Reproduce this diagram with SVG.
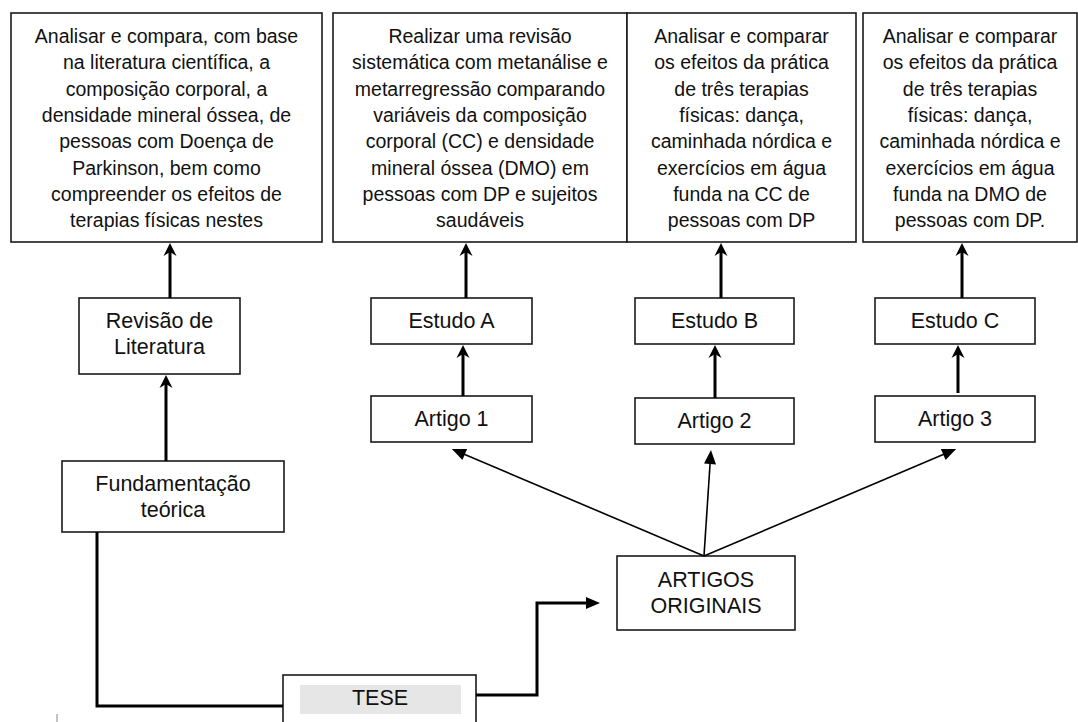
<svg xmlns="http://www.w3.org/2000/svg" width="1078" height="722" viewBox="0 0 1078 722">
<style>
  .box { fill: #ffffff; stroke: #1a1a1a; stroke-width: 1.6; }
  .t { font-family: "Liberation Sans", Arial, sans-serif; font-size: 19.5px; fill: #111; text-anchor: middle; }
  .l { font-family: "Liberation Sans", Arial, sans-serif; font-size: 21.5px; fill: #111; text-anchor: middle; }
  .thick { fill: none; stroke: #000; stroke-width: 3; }
  .thin { fill: none; stroke: #000; stroke-width: 1.6; }
</style>
<defs>
  <marker id="barb" markerUnits="userSpaceOnUse" viewBox="-8 -7 16 14" refX="0" refY="0" markerWidth="16" markerHeight="14" orient="auto">
    <path d="M7,0 L-6,-6.5 L-2,0 L-6,6.5 Z" fill="#000"/>
  </marker>
  <marker id="tri" markerUnits="userSpaceOnUse" viewBox="-8 -7 16 14" refX="0" refY="0" markerWidth="16" markerHeight="14" orient="auto">
    <path d="M7,0 L-7,-6 L-7,6 Z" fill="#000"/>
  </marker>
</defs>

<g id="obj1">
  <rect class="box" x="11" y="13" width="311" height="229"/>
  <text class="t" x="166.5" y="43">Analisar e compara, com base</text>
  <text class="t" x="166.5" y="69.3">na literatura científica, a</text>
  <text class="t" x="166.5" y="95.6">composição corporal, a</text>
  <text class="t" x="166.5" y="121.9">densidade mineral óssea, de</text>
  <text class="t" x="166.5" y="148.2">pessoas com Doença de</text>
  <text class="t" x="166.5" y="174.5">Parkinson, bem como</text>
  <text class="t" x="166.5" y="200.8">compreender os efeitos de</text>
  <text class="t" x="166.5" y="227.1">terapias físicas nestes</text>
</g>
<g id="obj2">
  <rect class="box" x="333" y="13" width="294" height="229"/>
  <text class="t" x="480" y="43">Realizar uma revisão</text>
  <text class="t" x="480" y="69.3">sistemática com metanálise e</text>
  <text class="t" x="480" y="95.6">metarregressão comparando</text>
  <text class="t" x="480" y="121.9">variáveis da composição</text>
  <text class="t" x="480" y="148.2">corporal (CC) e densidade</text>
  <text class="t" x="480" y="174.5">mineral óssea (DMO) em</text>
  <text class="t" x="480" y="200.8">pessoas com DP e sujeitos</text>
  <text class="t" x="480" y="227.1">saudáveis</text>
</g>
<g id="obj3">
  <rect class="box" x="627" y="13" width="229" height="229"/>
  <text class="t" x="741.5" y="43">Analisar e comparar</text>
  <text class="t" x="741.5" y="69.3">os efeitos da prática</text>
  <text class="t" x="741.5" y="95.6">de três terapias</text>
  <text class="t" x="741.5" y="121.9">físicas: dança,</text>
  <text class="t" x="741.5" y="148.2">caminhada nórdica e</text>
  <text class="t" x="741.5" y="174.5">exercícios em água</text>
  <text class="t" x="741.5" y="200.8">funda na CC de</text>
  <text class="t" x="741.5" y="227.1">pessoas com DP</text>
</g>
<g id="obj4">
  <rect class="box" x="863" y="13" width="214" height="229"/>
  <text class="t" x="970" y="43">Analisar e comparar</text>
  <text class="t" x="970" y="69.3">os efeitos da prática</text>
  <text class="t" x="970" y="95.6">de três terapias</text>
  <text class="t" x="970" y="121.9">físicas: dança,</text>
  <text class="t" x="970" y="148.2">caminhada nórdica e</text>
  <text class="t" x="970" y="174.5">exercícios em água</text>
  <text class="t" x="970" y="200.8">funda na DMO de</text>
  <text class="t" x="970" y="227.1">pessoas com DP.</text>
</g>

<g id="revisao">
  <rect class="box" x="79" y="298" width="161" height="76"/>
  <text class="l" x="159.5" y="328">Revisão de</text>
  <text class="l" x="159.5" y="354">Literatura</text>
</g>
<g id="fundamentacao">
  <rect class="box" x="62" y="461" width="222" height="71"/>
  <text class="l" x="173" y="491">Fundamentação</text>
  <text class="l" x="173" y="517">teórica</text>
</g>
<g id="estudoA">
  <rect class="box" x="371" y="298" width="161" height="46"/>
  <text class="l" x="451.5" y="328">Estudo A</text>
</g>
<g id="estudoB">
  <rect class="box" x="635" y="298" width="159" height="46"/>
  <text class="l" x="714.5" y="328">Estudo B</text>
</g>
<g id="estudoC">
  <rect class="box" x="875" y="298" width="160" height="46"/>
  <text class="l" x="955" y="328">Estudo C</text>
</g>
<g id="artigo1">
  <rect class="box" x="371" y="396" width="161" height="46"/>
  <text class="l" x="451.5" y="426">Artigo 1</text>
</g>
<g id="artigo2">
  <rect class="box" x="635" y="398" width="159" height="46"/>
  <text class="l" x="714.5" y="428">Artigo 2</text>
</g>
<g id="artigo3">
  <rect class="box" x="875" y="396" width="160" height="46"/>
  <text class="l" x="955" y="426">Artigo 3</text>
</g>
<g id="artigos-originais">
  <rect class="box" x="617" y="556" width="178" height="74"/>
  <text class="l" x="706" y="587">ARTIGOS</text>
  <text class="l" x="706" y="613">ORIGINAIS</text>
</g>
<g id="tese">
  <rect class="box" x="283" y="675" width="193" height="60"/>
  <rect x="300" y="685" width="161" height="29" fill="#e6e6e6"/>
  <text class="l" x="380" y="705">TESE</text>
</g>

<g id="connectors">
  <line class="thick" x1="170" y1="298" x2="170" y2="250" marker-end="url(#barb)"/>
  <line class="thick" x1="166" y1="461" x2="166" y2="382" marker-end="url(#barb)"/>
  <line class="thick" x1="466" y1="298" x2="466" y2="250" marker-end="url(#barb)"/>
  <line class="thick" x1="463" y1="396" x2="463" y2="352" marker-end="url(#barb)"/>
  <line class="thick" x1="721" y1="298" x2="721" y2="250" marker-end="url(#barb)"/>
  <line class="thick" x1="715" y1="398" x2="715" y2="352" marker-end="url(#barb)"/>
  <line class="thick" x1="962" y1="298" x2="962" y2="250" marker-end="url(#barb)"/>
  <line class="thick" x1="958" y1="393" x2="958" y2="352" marker-end="url(#barb)"/>
  <line class="thin" x1="704" y1="556" x2="458.3" y2="451.7" marker-end="url(#tri)"/>
  <line class="thin" x1="704" y1="556" x2="710.5" y2="457" marker-end="url(#tri)"/>
  <line class="thin" x1="704" y1="556" x2="949.7" y2="451.8" marker-end="url(#tri)"/>
  <polyline class="thick" points="97,532 97,706 283,706"/>
  <polyline class="thick" points="476,695 537,695 537,603 593,603" marker-end="url(#tri)"/>
</g>
<line x1="57" y1="714" x2="57" y2="722" stroke="#888" stroke-width="1"/>
</svg>
